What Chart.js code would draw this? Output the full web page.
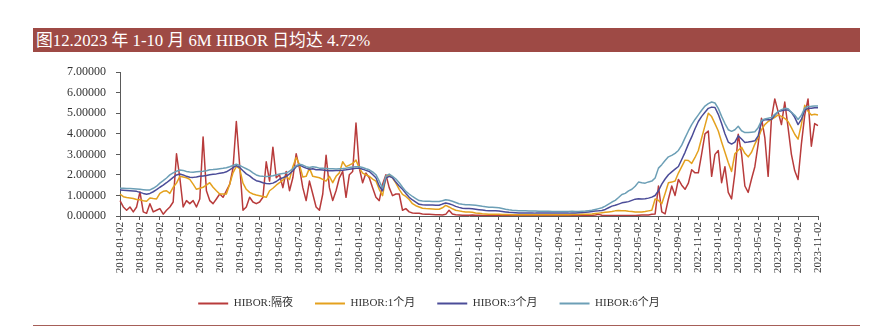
<!DOCTYPE html>
<html lang="zh-CN">
<head>
<meta charset="utf-8">
<title>HIBOR 走势</title>
<script src="https://cdn.jsdelivr.net/npm/chart.js@4.4.0/dist/chart.umd.min.js"></script>
<style>
  html, body { margin: 0; padding: 0; background: #fff; }
  body {
    width: 874px; height: 334px; position: relative; overflow: hidden;
    font-family: 'Liberation Serif', 'Noto Sans CJK SC', serif;
  }
  .title-bar {
    position: absolute; left: 33px; top: 28px; width: 827px; height: 24px;
    background: #9e4a45; color: #fff; font-size: 16.8px; line-height: 25px;
    padding-left: 3px; box-sizing: border-box; white-space: nowrap;
  }
  .chart-box { position: absolute; left: 0; top: 55px; width: 874px; height: 275px; }
  .rule { position: absolute; left: 33px; top: 325px; width: 827px; height: 1px; background: #a65e58; }
</style>
</head>
<body>
<div class="title-bar">图12.2023 年 1-10 月 6M HIBOR 日均达 4.72%</div>
<div class="chart-box"><canvas id="hiborChart" width="874" height="275"></canvas></div>
<div class="rule"></div>

<script>
// 日期序列：每月 02、12、22 日取样，2018-01-02 至 2023-11-02
const dates = [];
for (let y = 2018; y <= 2023; y++) {
  for (let m = 1; m <= 12; m++) {
    for (const d of ['02', '12', '22']) {
      if (y === 2023 && (m > 11 || (m === 11 && d !== '02'))) continue;
      dates.push(`${y}-${String(m).padStart(2, '0')}-${d}`);
    }
  }
}

const seriesNames = ['HIBOR:隔夜', 'HIBOR:1个月', 'HIBOR:3个月', 'HIBOR:6个月'];

// HIBOR:隔夜 (%)
const overnight = [
  0.75, 0.44, 0.28, 0.44, 0.20, 0.44, 1.17, 0.20, 0.13, 0.60, 0.20, 0.28, 0.36, 0.09, 0.28, 0.44, 0.68, 3.03,
  1.86, 0.44, 0.75, 0.60, 0.75, 0.44, 0.83, 3.85, 1.23, 0.75, 0.60, 0.83, 1.07, 0.91, 1.23, 1.54, 2.33, 4.60,
  2.48, 0.28, 0.44, 0.91, 0.68, 0.60, 0.68, 0.91, 2.64, 1.70, 3.35, 1.86, 2.01, 1.38, 2.17, 1.23, 1.86, 3.03,
  2.33, 1.38, 0.75, 1.70, 1.07, 0.44, 0.28, 1.07, 2.96, 1.38, 0.75, 1.23, 1.86, 2.17, 0.91, 2.01, 2.17, 4.53,
  2.33, 1.62, 2.09, 1.86, 1.38, 0.91, 0.75, 1.54, 2.01, 1.38, 0.99, 1.07, 1.07, 0.28, 0.36, 0.20, 0.15, 0.13,
  0.13, 0.10, 0.09, 0.08, 0.07, 0.06, 0.06, 0.05, 0.08, 0.28, 0.10, 0.06, 0.05, 0.04, 0.04, 0.04, 0.05, 0.04,
  0.04, 0.03, 0.03, 0.03, 0.03, 0.03, 0.03, 0.02, 0.02, 0.02, 0.02, 0.02, 0.02, 0.02, 0.02, 0.02, 0.02, 0.02,
  0.02, 0.02, 0.02, 0.02, 0.02, 0.02, 0.02, 0.02, 0.02, 0.02, 0.02, 0.02, 0.02, 0.02, 0.03, 0.03, 0.03, 0.05,
  0.08, 0.04, 0.03, 0.03, 0.03, 0.03, 0.03, 0.03, 0.03, 0.03, 0.03, 0.03, 0.04, 0.05, 0.05, 0.05, 0.08, 0.10,
  1.46, 0.20, 0.10, 0.83, 1.46, 1.00, 1.78, 1.50, 1.30, 1.60, 2.25, 2.10, 2.10, 3.03, 4.00, 4.14, 1.93, 3.00,
  3.19, 1.62, 2.40, 1.15, 0.83, 2.09, 3.98, 3.03, 1.46, 1.15, 1.80, 2.40, 3.50, 4.76, 3.82, 1.93, 4.76, 5.70,
  5.08, 4.45, 5.55, 4.30, 3.00, 2.20, 1.78, 3.50, 4.90, 5.70, 3.40, 4.50, 4.40
];

// HIBOR:1个月 (%)
const oneMonth = [
  1.07, 0.94, 0.90, 0.88, 0.85, 0.80, 0.79, 0.74, 0.72, 0.88, 0.85, 0.83, 1.10, 1.20, 1.23, 1.10, 1.40, 1.60,
  1.93, 1.90, 1.86, 1.78, 1.55, 1.30, 1.35, 1.40, 1.50, 1.62, 1.40, 1.23, 1.07, 1.07, 1.07, 1.54, 2.10, 2.41,
  2.30, 1.60, 1.30, 1.15, 1.07, 1.02, 0.99, 0.95, 0.91, 1.23, 1.35, 1.50, 1.62, 1.75, 1.93, 1.78, 2.40, 2.85,
  2.50, 1.90, 1.93, 2.33, 1.93, 1.90, 1.86, 1.78, 1.70, 1.93, 1.62, 1.93, 2.10, 2.64, 2.40, 2.48, 2.56, 2.72,
  2.33, 2.09, 2.01, 1.93, 1.80, 1.70, 1.30, 0.99, 1.90, 2.01, 1.86, 1.60, 1.30, 1.05, 0.95, 0.80, 0.60, 0.50,
  0.44, 0.38, 0.36, 0.35, 0.34, 0.33, 0.33, 0.40, 0.52, 0.44, 0.35, 0.28, 0.25, 0.22, 0.20, 0.19, 0.18, 0.15,
  0.13, 0.11, 0.10, 0.09, 0.08, 0.08, 0.08, 0.07, 0.07, 0.07, 0.06, 0.06, 0.06, 0.06, 0.06, 0.06, 0.06, 0.06,
  0.06, 0.06, 0.06, 0.06, 0.06, 0.06, 0.06, 0.06, 0.06, 0.06, 0.07, 0.07, 0.07, 0.08, 0.08, 0.09, 0.10, 0.12,
  0.14, 0.16, 0.18, 0.20, 0.22, 0.25, 0.27, 0.26, 0.25, 0.23, 0.22, 0.20, 0.20, 0.20, 0.22, 0.25, 0.28, 0.83,
  0.76, 0.60, 1.10, 1.62, 1.65, 1.70, 2.09, 2.40, 2.72, 2.70, 2.56, 2.85, 3.19, 3.80, 4.40, 5.00, 4.84, 4.50,
  4.14, 3.60, 3.10, 2.60, 2.17, 3.03, 3.20, 3.35, 3.05, 2.88, 3.10, 3.50, 3.82, 4.20, 4.45, 4.60, 4.70, 4.80,
  4.92, 4.85, 4.75, 4.60, 4.30, 3.98, 3.74, 4.45, 5.39, 5.10, 4.92, 4.95, 4.92
];

// HIBOR:3个月 (%)
const threeMonth = [
  1.26, 1.25, 1.24, 1.23, 1.22, 1.20, 1.15, 1.10, 1.06, 1.10, 1.18, 1.28, 1.40, 1.50, 1.62, 1.75, 1.88, 2.00,
  2.04, 2.00, 1.93, 1.89, 1.88, 1.90, 1.93, 1.95, 1.97, 2.01, 2.03, 2.05, 2.08, 2.10, 2.15, 2.25, 2.35, 2.45,
  2.36, 2.20, 2.05, 1.95, 1.82, 1.72, 1.68, 1.62, 1.58, 1.57, 1.60, 1.68, 1.80, 1.86, 1.93, 2.05, 2.20, 2.40,
  2.48, 2.40, 2.33, 2.28, 2.30, 2.25, 2.25, 2.24, 2.22, 2.20, 2.20, 2.21, 2.22, 2.23, 2.25, 2.28, 2.30, 2.32,
  2.33, 2.28, 2.22, 2.17, 2.02, 1.86, 1.46, 1.23, 1.85, 1.93, 1.86, 1.65, 1.46, 1.30, 1.10, 0.91, 0.78, 0.68,
  0.57, 0.55, 0.54, 0.54, 0.53, 0.52, 0.52, 0.58, 0.63, 0.60, 0.54, 0.47, 0.42, 0.38, 0.36, 0.36, 0.35, 0.33,
  0.31, 0.29, 0.27, 0.26, 0.25, 0.25, 0.24, 0.22, 0.20, 0.18, 0.17, 0.16, 0.15, 0.15, 0.15, 0.15, 0.15, 0.14,
  0.14, 0.14, 0.14, 0.14, 0.14, 0.14, 0.14, 0.14, 0.14, 0.14, 0.15, 0.15, 0.16, 0.17, 0.18, 0.20, 0.22, 0.24,
  0.25, 0.27, 0.32, 0.40, 0.48, 0.52, 0.58, 0.64, 0.67, 0.70, 0.76, 0.82, 0.84, 0.83, 0.84, 0.87, 0.92, 1.00,
  1.23, 1.55, 1.80, 2.01, 2.15, 2.28, 2.41, 2.75, 3.10, 3.50, 3.85, 4.25, 4.60, 4.85, 5.05, 5.24, 5.30, 5.28,
  4.95, 4.50, 4.00, 3.60, 3.50, 3.60, 3.90, 3.75, 3.58, 3.60, 3.63, 3.66, 3.90, 4.60, 4.69, 4.69, 4.70, 4.90,
  5.08, 5.12, 5.16, 5.16, 5.05, 4.80, 4.45, 4.70, 5.15, 5.24, 5.25, 5.27, 5.27
];

// HIBOR:6个月 (%)
const sixMonth = [
  1.35, 1.35, 1.34, 1.34, 1.33, 1.32, 1.30, 1.28, 1.26, 1.27, 1.35, 1.45, 1.60, 1.72, 1.85, 2.00, 2.10, 2.18,
  2.24, 2.22, 2.17, 2.14, 2.13, 2.15, 2.17, 2.18, 2.20, 2.25, 2.26, 2.28, 2.30, 2.32, 2.35, 2.40, 2.46, 2.52,
  2.46, 2.38, 2.30, 2.22, 2.10, 2.00, 1.95, 1.93, 1.92, 1.93, 1.96, 2.00, 2.04, 2.07, 2.09, 2.18, 2.30, 2.45,
  2.52, 2.48, 2.40, 2.36, 2.40, 2.37, 2.33, 2.32, 2.31, 2.30, 2.30, 2.29, 2.30, 2.31, 2.33, 2.36, 2.38, 2.40,
  2.40, 2.36, 2.30, 2.25, 2.15, 2.01, 1.70, 1.35, 1.95, 2.04, 1.93, 1.80, 1.62, 1.40, 1.20, 1.07, 0.95, 0.85,
  0.75, 0.73, 0.72, 0.72, 0.71, 0.71, 0.71, 0.74, 0.79, 0.77, 0.72, 0.66, 0.60, 0.57, 0.55, 0.55, 0.54, 0.52,
  0.50, 0.47, 0.45, 0.43, 0.42, 0.41, 0.40, 0.37, 0.33, 0.30, 0.28, 0.27, 0.26, 0.25, 0.25, 0.24, 0.24, 0.24,
  0.23, 0.23, 0.23, 0.23, 0.22, 0.22, 0.22, 0.22, 0.22, 0.22, 0.23, 0.22, 0.22, 0.23, 0.24, 0.26, 0.28, 0.32,
  0.36, 0.40, 0.48, 0.58, 0.68, 0.76, 0.90, 1.05, 1.10, 1.22, 1.30, 1.45, 1.65, 1.62, 1.60, 1.66, 1.70, 1.85,
  2.33, 2.50, 2.70, 2.88, 2.95, 3.05, 3.19, 3.45, 3.80, 4.14, 4.45, 4.70, 4.92, 5.15, 5.35, 5.47, 5.55, 5.50,
  5.24, 4.85, 4.50, 4.20, 4.12, 4.20, 4.37, 4.15, 4.06, 4.06, 4.08, 4.10, 4.30, 4.65, 4.72, 4.76, 4.80, 4.95,
  5.08, 5.18, 5.24, 5.22, 5.05, 4.90, 4.70, 4.90, 5.25, 5.33, 5.34, 5.36, 5.36
];

const lineColors = ['#b83b3b', '#e4a11e', '#4b4c98', '#6c9fb6'];
const yTicks = [0, 1, 2, 3, 4, 5, 6, 7];
const serif = "'Liberation Serif', 'Noto Sans CJK SC', serif";
const axisColor = '#5a5a5a';

function makeDataset(i, values) {
  return {
    label: seriesNames[i],
    data: values,
    borderColor: lineColors[i],
    backgroundColor: lineColors[i],
    borderWidth: 1.5,
    borderJoinStyle: 'round',
    pointRadius: 0,
    tension: 0,
    fill: false,
    yAxisID: 'y',
    // 6个月画在最上层
    order: 4 - i
  };
}

const ctx = document.getElementById('hiborChart').getContext('2d');
new Chart(ctx, {
  type: 'line',
  data: {
    labels: dates,
    datasets: [
      makeDataset(0, overnight),
      makeDataset(1, oneMonth),
      makeDataset(2, threeMonth),
      makeDataset(3, sixMonth)
    ]
  },
  options: {
    responsive: false,
    animation: false,
    devicePixelRatio: 1,
    layout: { padding: { left: 0, right: 16, top: 13, bottom: 11 } },
    plugins: {
      tooltip: { enabled: false },
      legend: {
        position: 'bottom',
        labels: {
          boxWidth: 30,
          boxHeight: 2,
          padding: 22,
          color: '#333',
          font: { family: serif, size: 11 },
          sort: (a, b) => a.datasetIndex - b.datasetIndex,
          generateLabels(chart) {
            return Chart.defaults.plugins.legend.labels.generateLabels(chart)
              .map(item => ({ ...item, lineWidth: 0 }));
          }
        }
      }
    },
    scales: {
      x: {
        type: 'category',
        grid: {
          drawOnChartArea: false,
          tickLength: 4,
          color: axisColor,
          // 只在每两个月的标签处画刻度线
          tickColor: (c) => (c.index % 6 === 0 ? axisColor : 'rgba(0,0,0,0)')
        },
        border: { display: true, color: axisColor },
        ticks: {
          autoSkip: false,
          maxRotation: 90,
          minRotation: 90,
          padding: 2,
          color: '#333',
          font: { family: serif, size: 11 },
          callback(value, index) {
            return index % 6 === 0 ? this.getLabelForValue(value) : '';
          }
        },
        afterFit(scale) { scale.height = 60; }
      },
      y: {
        min: yTicks[0],
        max: yTicks[yTicks.length - 1],
        grid: { drawOnChartArea: false, tickLength: 4, color: axisColor },
        border: { display: true, color: axisColor },
        ticks: {
          stepSize: 1,
          padding: 10,
          color: '#333',
          font: { family: serif, size: 12 },
          callback: (v) => Number(v).toFixed(5)
        },
        afterFit(scale) { scale.width = 120; }
      },
      // 右侧留白，让图例与标题居中对齐
      spacer: {
        position: 'right',
        grid: { display: false },
        border: { display: false },
        ticks: { display: false },
        afterFit(scale) { scale.width = 40; }
      }
    }
  }
});
</script>
</body>
</html>
